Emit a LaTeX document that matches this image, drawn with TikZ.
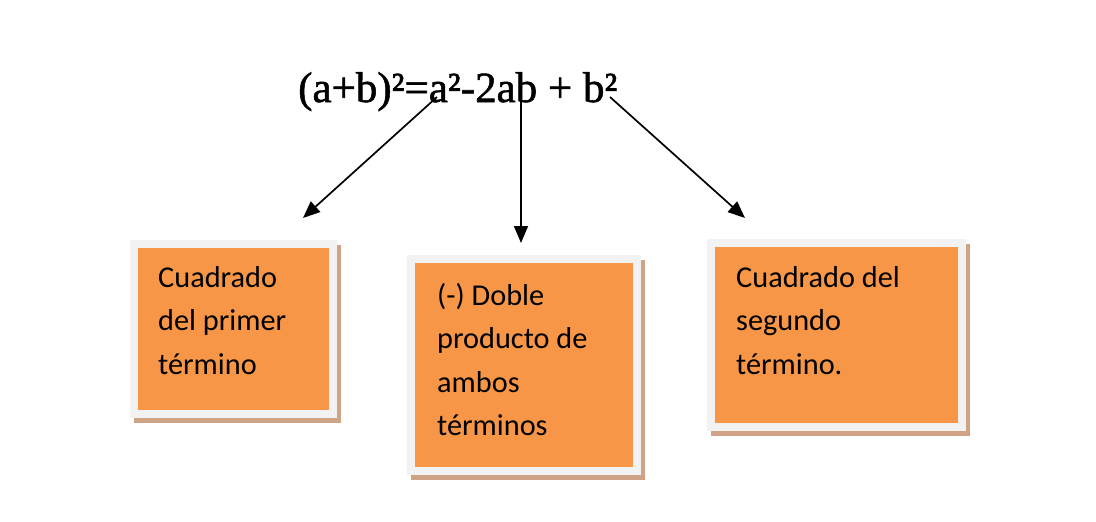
\documentclass[tikz,border=0pt]{standalone}
\usepackage{fontspec}
\setmainfont{Carlito}
\newfontfamily\eqfont[FakeBold=1.3]{Liberation Serif}
\usetikzlibrary{arrows.meta,positioning}
\definecolor{boxfill}{HTML}{F79646}
\definecolor{boxframe}{HTML}{F2F2F2}
\definecolor{boxshade}{HTML}{CFA383}

\begin{document}
\begin{tikzpicture}[x=1pt, y=-1pt,
    term/.style={draw=boxframe, line width=8pt, fill=boxfill, anchor=north west, inner sep=0, outer sep=0,
      preaction={draw=boxshade, fill=boxshade, line width=8pt, transform canvas={xshift=4pt, yshift=-5pt}}},
    termtext/.style={anchor=north west, align=left, inner sep=0, font=\fontsize{30.3}{43.5}\selectfont},
    arr/.style={-{Triangle[length=17pt, width=14pt]}, line width=1.7pt}]
      \useasboundingbox (0,0) rectangle (1096,522);
      % Formula
      \node[anchor=base west, inner sep=0, font=\eqfont\fontsize{43}{50}\selectfont] (formula) at (298,102) {(a+b)²=a²-2ab + b²};
      % Arrow ends
      \coordinate (s1) at (437,97);
      \coordinate (s2) at (521,90);
      \coordinate (s3) at (610,97);
      \coordinate (e1) at (303,218);
      \coordinate (e2) at (521,243);
      \coordinate (e3) at (745,218);
      \draw[arr] (s1) -- (e1);
      \draw[arr] (s2) -- (e2);
      \draw[arr] (s3) -- (e3);
      % Boxes
      \node[term, minimum width=199pt, minimum height=170pt] (b1) at (134,244) {};
      \node[term, minimum width=226pt, minimum height=212pt] (b2) at (411,259) {};
      \node[term, minimum width=251pt, minimum height=184pt] (b3) at (711,243) {};
      % Box texts
      \node[termtext, below right=22pt and 24pt of b1.north west] (t1) {Cuadrado\\del primer\\término};
      \node[termtext, below right=24pt and 26pt of b2.north west] (t2) {(-) Doble\\producto de\\ambos\\términos};
      \node[termtext, below right=23pt and 25pt of b3.north west] (t3) {Cuadrado del\\segundo\\término.};
\end{tikzpicture}
\end{document}
